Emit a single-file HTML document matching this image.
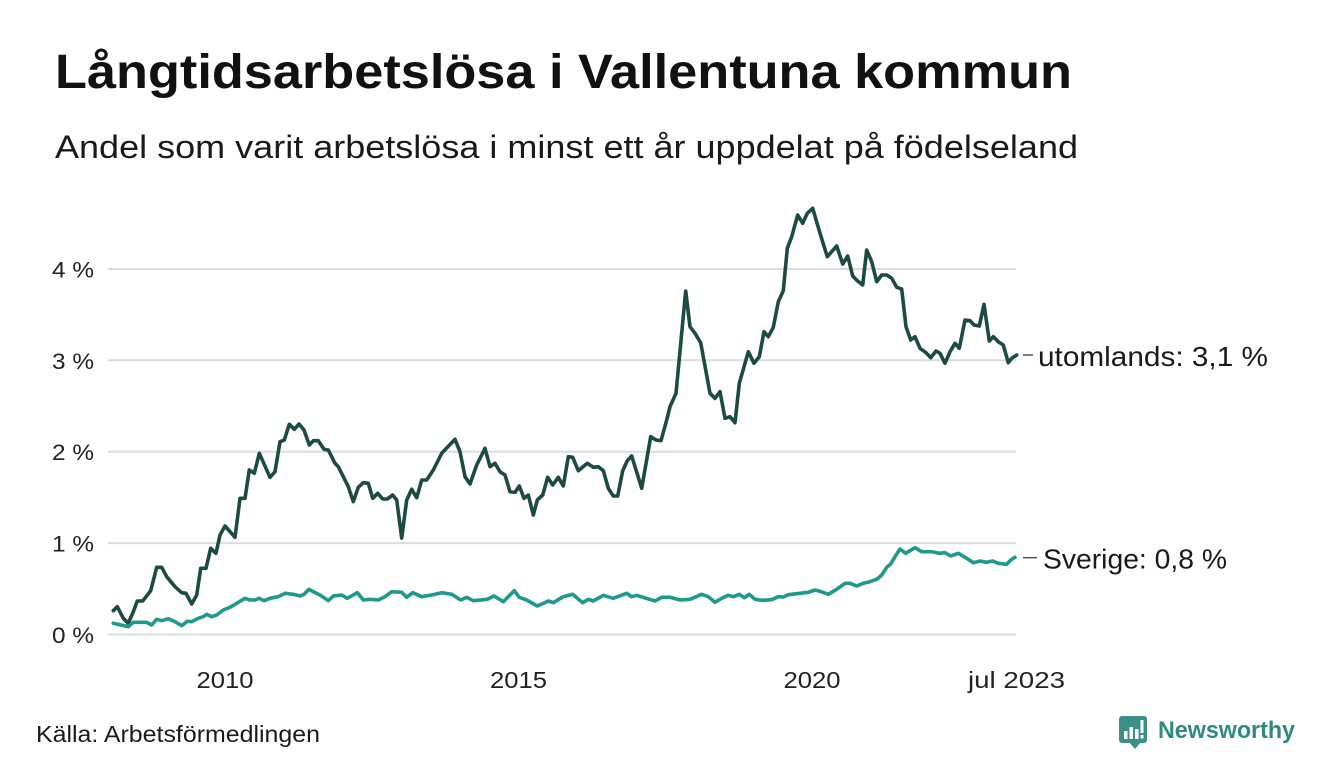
<!DOCTYPE html>
<html>
<head>
<meta charset="utf-8">
<style>
  html, body { margin: 0; padding: 0; background: #ffffff; }
  body { width: 1340px; height: 780px; overflow: hidden; }
  svg { display: block; }
  text { font-family: "Liberation Sans", "DejaVu Sans", sans-serif; }
</style>
</head>
<body>
<svg width="1340" height="780" viewBox="0 0 1340 780" xmlns="http://www.w3.org/2000/svg">
  <rect width="1340" height="780" fill="#ffffff"/>

  <!-- Title & subtitle -->
  <text x="55" y="88" font-size="48" font-weight="bold" fill="#111111" textLength="1017" lengthAdjust="spacingAndGlyphs">Långtidsarbetslösa i Vallentuna kommun</text>
  <text x="55" y="158" font-size="32" fill="#1a1a1a" textLength="1023" lengthAdjust="spacingAndGlyphs">Andel som varit arbetslösa i minst ett år uppdelat på födelseland</text>

  <!-- Gridlines -->
  <g stroke="#dcdcdc" stroke-width="2">
    <line x1="108" y1="634.5" x2="1016" y2="634.5"/>
    <line x1="108" y1="543.1" x2="1016" y2="543.1"/>
    <line x1="108" y1="451.7" x2="1016" y2="451.7"/>
    <line x1="108" y1="360.3" x2="1016" y2="360.3"/>
    <line x1="108" y1="269" x2="1016" y2="269"/>
  </g>

  <!-- Y tick labels -->
  <g font-size="22" fill="#222222">
    <text x="52" y="643" textLength="42" lengthAdjust="spacingAndGlyphs">0 %</text>
    <text x="52" y="551.5" textLength="42" lengthAdjust="spacingAndGlyphs">1 %</text>
    <text x="52" y="460" textLength="42" lengthAdjust="spacingAndGlyphs">2 %</text>
    <text x="52" y="369" textLength="42" lengthAdjust="spacingAndGlyphs">3 %</text>
    <text x="52" y="277.5" textLength="42" lengthAdjust="spacingAndGlyphs">4 %</text>
  </g>

  <!-- X tick labels -->
  <g font-size="23" fill="#222222">
    <text x="196.5" y="688" textLength="57" lengthAdjust="spacingAndGlyphs">2010</text>
    <text x="490" y="688" textLength="57" lengthAdjust="spacingAndGlyphs">2015</text>
    <text x="783.5" y="688" textLength="57" lengthAdjust="spacingAndGlyphs">2020</text>
    <text x="968" y="688" textLength="97" lengthAdjust="spacingAndGlyphs">jul 2023</text>
  </g>

  <!-- Series: utomlands (dark) -->
  <polyline fill="none" stroke="#1d4a43" stroke-width="3.6" stroke-linejoin="round" stroke-linecap="round"
    points="113.3,610.7 117.3,606.7 123.3,618.3 128.3,623.3 133.3,611.7 137.3,601 142.7,601 150.7,590.7 156.7,567.3 161.7,567.3 166.7,576.7 175,586.7 181.7,592.7 186,593.3 191.7,604 196.7,595 200.7,568.3 206,568.3 210.7,548.3 216,553.3 220,535 225,526 235,537.3 240,498.3 245,498.3 249.3,470 254.3,473.3 259.3,453.3 270,477.3 275,471.7 280,441.7 284.3,440 289.3,424.3 294.3,429.3 299,424 304,430 309.3,445 313.3,440.7 318.3,440.7 324,449.3 328.3,450 335,463.3 338.3,466.7 348.3,486.7 353.3,501.7 358.3,487.3 363.3,482.7 368.3,483.3 372.7,498.3 377.7,493.3 382.7,499 387.3,499 392.7,495 396.7,500 401.7,538 406.7,500 411.7,489.3 416.7,497.7 421.7,480 426.7,480 433.3,470 441.7,453.3 455,439.3 460,451.7 465,476.7 470,484 476.7,465 485,448.3 490,466.7 495,463.3 500,471.7 505,475 510,491.7 515,492.3 519.3,486 524,498.3 528.3,495 533.3,515 537.3,500 542.7,495 547.7,477.3 552.7,485 558.3,477.3 563.3,486 568.3,456.7 572.7,457.3 578.3,470.7 587.3,463.3 593.3,467.3 598.3,466.7 603.3,470.7 608.3,488.3 613.3,496 617.7,496 622.7,470.7 627.3,460.7 631.7,456 641.7,488.3 650.7,436.7 656,440 661,440.7 666.7,420 670,406.7 676,393.3 685.7,291 690,326.7 695,333.3 700.7,342.7 710,393.3 715,398.3 720,391.7 725,418.3 730,416.7 735,422.7 739.3,383.3 748.3,351.7 754,363.3 759.3,356.7 764,331.7 768.3,336.7 773.3,327.3 778.3,301.7 783.3,290.7 787.3,248.3 791.7,236.7 797.7,215 802.7,223.3 807.3,213.3 812.7,208.3 820,233.3 827.3,256.7 836.7,246 842.7,264 847.7,256 852.7,276 857.3,280.7 862.7,285 866.7,250 871.7,261.7 876.7,281.7 881.7,275 886.7,275 891.7,278.3 896.7,287.3 901.7,289 906,326.7 910.7,340 915,336.7 920,348.3 926,352.7 930.7,357.7 936,351 940,353.3 945,363.3 950,351.7 955,343.3 959.3,348.3 965,320 970,320.7 974,325 979.3,326 984,304.3 989.3,341 993.3,336.7 998.3,341.7 1003.3,345 1008.3,362.7 1011.7,358.3 1016.7,355"/>

  <!-- Series: Sverige (teal) -->
  <polyline fill="none" stroke="#1f9a8a" stroke-width="3.6" stroke-linejoin="round" stroke-linecap="round"
    points="113.3,623.3 128.3,626.7 133.3,622.3 146.7,622.3 151.7,625 156.7,619.3 161.7,620.7 168.3,618.7 175,621.7 181.7,625.7 187.3,621.3 191.7,621.7 198.3,618.3 203.3,616.7 206.7,614.3 211.7,616.7 216.7,615 223.3,610 230,607.3 236.7,603.3 245,598.3 250,600 255,600 259.3,598.3 264,600.7 270,598.3 278.3,596.7 285,593.3 293.3,594.3 300,596 304,594.3 309,589.3 313.3,591.7 320,595 328.3,600.7 333.3,596 341.7,595 347.3,598.3 357.3,592.7 363.3,600 370,599.3 378.3,600 385,596.7 391.7,591.7 401.7,592.3 406.7,597.3 412.7,592.7 421.7,596.7 431.7,595 441.7,592.7 451.7,594.3 460.7,600 466.7,597.3 473.3,600.7 487.3,599.3 494,596 503.3,601.7 514.3,590.7 519.3,597.3 526.7,600 537.3,606 548.3,601 553.3,602.7 563.3,596.7 572.7,594.3 582.7,602.7 588.3,599.3 593.3,601 603.3,595.3 613.3,598.3 626.7,593.3 631.7,596.7 636.7,595.3 655,601 661.7,597.3 670,597.3 680,600 690,599.3 701.7,594.3 708.3,596.7 715,602.3 721.7,598.3 728.3,595.3 733.3,596.7 739.3,594.3 744.3,597.7 749.3,594.3 755,599.3 761.7,600.3 771.7,599.7 778.3,596.7 783.3,597 788.3,594.7 800,593.3 808.3,592.3 815,590 820,591.3 828.3,594.3 836.7,589.3 845,583.3 850,583.3 856.7,586 863.3,583.3 870,581.7 877.3,579 881.7,575 886.7,567.3 890.7,564 895,556.7 900,549 905.7,553.3 915,547.7 921.7,551.7 931.7,551.7 939.3,553.3 945,552.7 950.7,556 958.3,553.3 966.7,558.3 973.3,562.7 980,561 986.7,562.3 992.7,561 998.3,563.3 1006.7,564.3 1010.7,560 1015,557.3"/>

  <!-- End labels -->
  <g stroke="#555555" stroke-width="1.5">
    <line x1="1023" y1="355" x2="1033" y2="355"/>
    <line x1="1023" y1="557.7" x2="1037" y2="557.7"/>
  </g>
  <text x="1038" y="366" font-size="28" fill="#1a1a1a" textLength="230" lengthAdjust="spacingAndGlyphs">utomlands: 3,1 %</text>
  <text x="1043" y="568.5" font-size="28" fill="#1a1a1a" textLength="184" lengthAdjust="spacingAndGlyphs">Sverige: 0,8 %</text>

  <!-- Source -->
  <text x="36" y="742" font-size="23" fill="#1a1a1a" textLength="284" lengthAdjust="spacingAndGlyphs">Källa: Arbetsförmedlingen</text>

  <!-- Newsworthy logo -->
  <g>
    <rect x="1119" y="716" width="28" height="27" rx="3" fill="#3a8f86"/>
    <polygon points="1129,742 1141,742 1135,749" fill="#3a8f86"/>
    <rect x="1124" y="731" width="3.5" height="8" fill="#ffffff"/>
    <rect x="1129.5" y="727" width="3.5" height="12" fill="#ffffff"/>
    <rect x="1135" y="729" width="3.5" height="10" fill="#ffffff"/>
    <rect x="1140.5" y="720" width="3" height="13" fill="#ffffff"/>
    <rect x="1140.5" y="735" width="3" height="3.5" fill="#ffffff"/>
  </g>
  <text x="1158" y="738" font-size="24" font-weight="bold" fill="#2e8a7f" textLength="137" lengthAdjust="spacingAndGlyphs">Newsworthy</text>
</svg>
</body>
</html>
